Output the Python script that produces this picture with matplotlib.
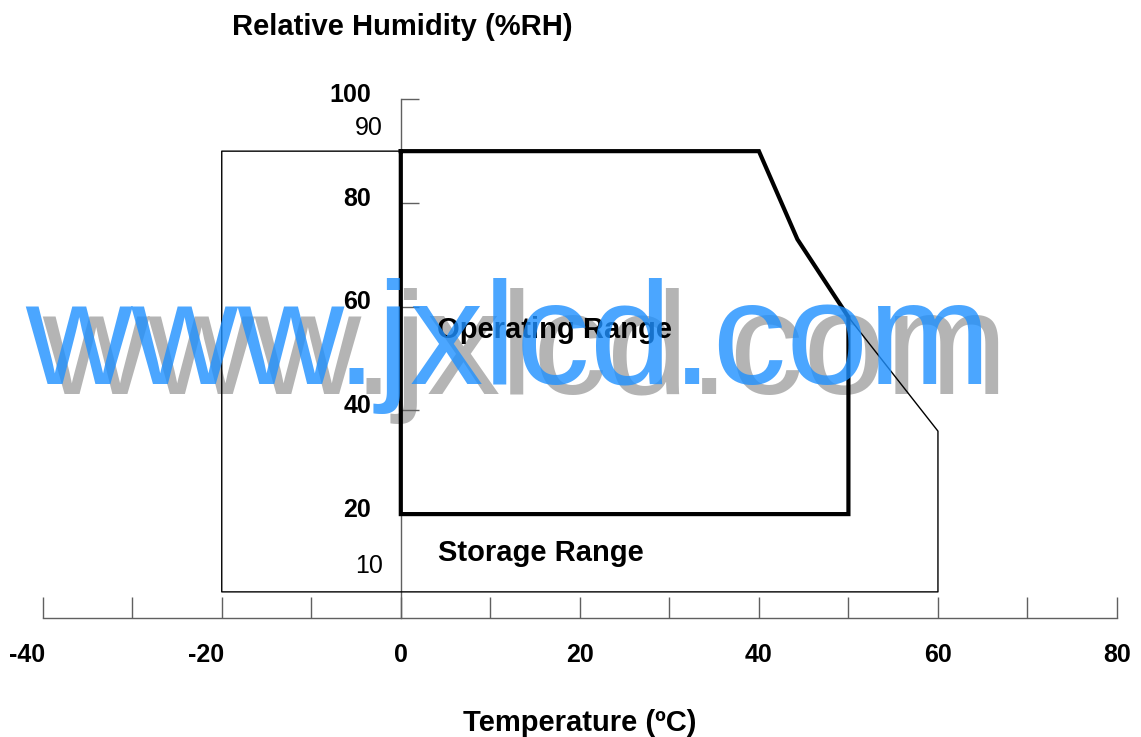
import matplotlib
matplotlib.use('Agg')
import matplotlib.pyplot as plt

plt.rcParams['font.family'] = ['Liberation Sans', 'DejaVu Sans']

# operating and storage envelopes (temperature degC, humidity %RH)
op_temp = [0, 40, 44.3, 50, 50, 0, 0]
op_rh = [90, 90, 73, 58, 20, 20, 90]
st_temp = [0, -20, -20, 60, 60, 50]
st_rh = [90, 90, 5, 5, 36, 58]

x_ticks = list(range(-40, 81, 10))
x_labels = [-40, -20, 0, 20, 40, 60, 80]
y_ticks = [20, 40, 60, 80, 100]
y_extra = [90, 10]          # light labels
y_extra_pos = [93.1, 8.6]

fig = plt.figure(figsize=(11.41, 7.37), dpi=100)
ax = fig.add_axes([42.7 / 1141, (737 - 617.8) / 737, (1117 - 42.7) / 1141, (617.8 - 99.3) / 737])
ax.set_xlim(-40, 80)
ax.set_ylim(0, 100)

for s in ['top', 'right']:
    ax.spines[s].set_visible(False)
ax.spines['left'].set_position(('data', 0))
ax.spines['left'].set_bounds(0, 100)
ax.spines['bottom'].set_bounds(-40, 80)
for s in ['left', 'bottom']:
    ax.spines[s].set_color('#606060')
    ax.spines[s].set_linewidth(1.0)
    ax.spines[s].set_clip_on(False)

ax.set_xticks(x_ticks)
ax.set_yticks(y_ticks)
ax.tick_params(axis='x', direction='in', length=15, width=1, color='#606060', labelbottom=False)
ax.tick_params(axis='y', direction='in', length=13, width=1, color='#606060', labelleft=False)

ax.plot(st_temp, st_rh, color='black', lw=1.0, zorder=3, clip_on=False)
ax.plot(op_temp, op_rh, color='black', lw=3.0, zorder=4, solid_joinstyle='miter', clip_on=False)

for v in x_labels:
    xx = v - 1.7 if v < 0 else v
    ax.text(xx, -8.5, str(v), ha='center', va='baseline', fontsize=18,
            fontweight='bold', clip_on=False)
for v in y_ticks:
    ax.text(-3.3, v - 0.5, str(v), ha='right', va='baseline', fontsize=18,
            fontweight='bold', clip_on=False)
for v, p in zip(y_extra, y_extra_pos):
    ax.text(-2.0, p, str(v), ha='right', va='baseline', fontsize=18, clip_on=False)

ax.text(4.0, 54.0, 'Operating Range', ha='left', va='baseline', fontsize=21,
        fontweight='bold', zorder=4)
ax.text(4.2, 10.95, 'Storage Range', ha='left', va='baseline', fontsize=21,
        fontweight='bold', zorder=4)
ax.text(-18.8, 112.4, 'Relative Humidity (%RH)', ha='left', va='baseline',
        fontsize=21, fontweight='bold', clip_on=False)
ax.text(20, -21.8, 'Temperature (\u00baC)', ha='center', va='baseline',
        fontsize=21, fontweight='bold', clip_on=False)

# watermark
ax.text(-40.1, 43.2, 'www.jxlcd.com', ha='left', va='baseline', fontsize=106,
        color='#b4b4b4', zorder=0.5, clip_on=False)
ax.text(-41.9, 45.1, 'www.jxlcd.com', ha='left', va='baseline', fontsize=106,
        color='#1e90ff', alpha=0.8, zorder=6, clip_on=False)

fig.savefig('out.png', dpi=100)
